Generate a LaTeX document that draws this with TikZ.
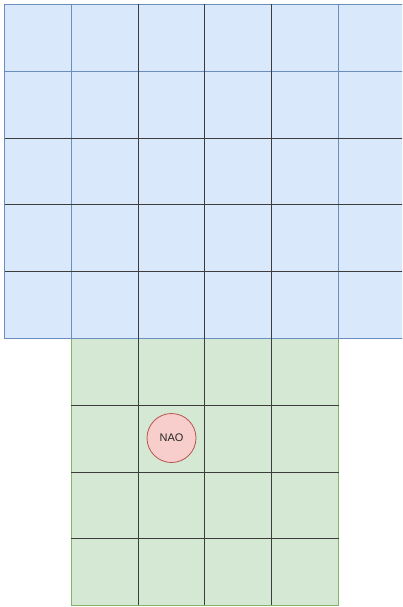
\documentclass[tikz,border=0pt]{standalone}
\usepackage{fontspec}
\setmainfont{Liberation Sans}
\definecolor{bluefill}{HTML}{DAE8FC}
\definecolor{bluestroke}{HTML}{6C8EBF}
\definecolor{greenfill}{HTML}{D5E8D4}
\definecolor{greenstroke}{HTML}{82B366}
\definecolor{redfill}{HTML}{F8CECC}
\definecolor{redstroke}{HTML}{B85450}
\definecolor{darkline}{HTML}{3C3C3C}
\tikzset{
  bluearea/.style={fill=bluefill, draw=bluestroke, line width=1pt},
  greenarea/.style={fill=greenfill, draw=greenstroke, line width=1pt},
  blueline/.style={draw=bluestroke, line width=1pt},
  gridline/.style={draw=darkline, line width=1.1pt},
  robot/.style={circle, fill=redfill, draw=redstroke, line width=0.8pt, minimum size=49pt, inner sep=0pt, font=\fontsize{11}{13}\selectfont, text=black!85}
}
\begin{document}
\begin{tikzpicture}[x=1pt,y=-1pt]
\useasboundingbox (0,0) rectangle (402,607);
\begin{scope}
\clip (0,0) rectangle (402,607);
% blue area
\fill[bluefill] (4.5,4.5) rectangle (405.3,338.5);
\draw[blueline] (410,4.5) -- (4.5,4.5) -- (4.5,338.5) -- (410,338.5);
\draw[blueline] (71.3,4.5) -- (71.3,338.5);
\draw[blueline] (338.5,4.5) -- (338.5,338.5);
\draw[blueline] (4.5,71.3) -- (410,71.3);
% green area
\fill[greenfill] (71.3,338.5) rectangle (338.5,605.3);
\draw[draw=greenstroke, line width=1pt] (71.3,338.5) -- (71.3,605.3) -- (338.5,605.3) -- (338.5,338.5);
\draw[blueline] (4.5,338.5) -- (410,338.5);
% dark grid lines
\foreach \x in {138.1,204.9,271.7} {
  \draw[gridline] (\x,4.5) -- (\x,605.3);
}
\foreach \y in {138.1,204.9,271.7} {
  \draw[gridline] (4.5,\y) -- (410,\y);
}
\foreach \y in {405.3,472.1,538.9} {
  \draw[gridline] (71.3,\y) -- (338.5,\y);
}
\end{scope}
\node[robot] (nao) at (171.5,438) {NAO};
\end{tikzpicture}
\end{document}
